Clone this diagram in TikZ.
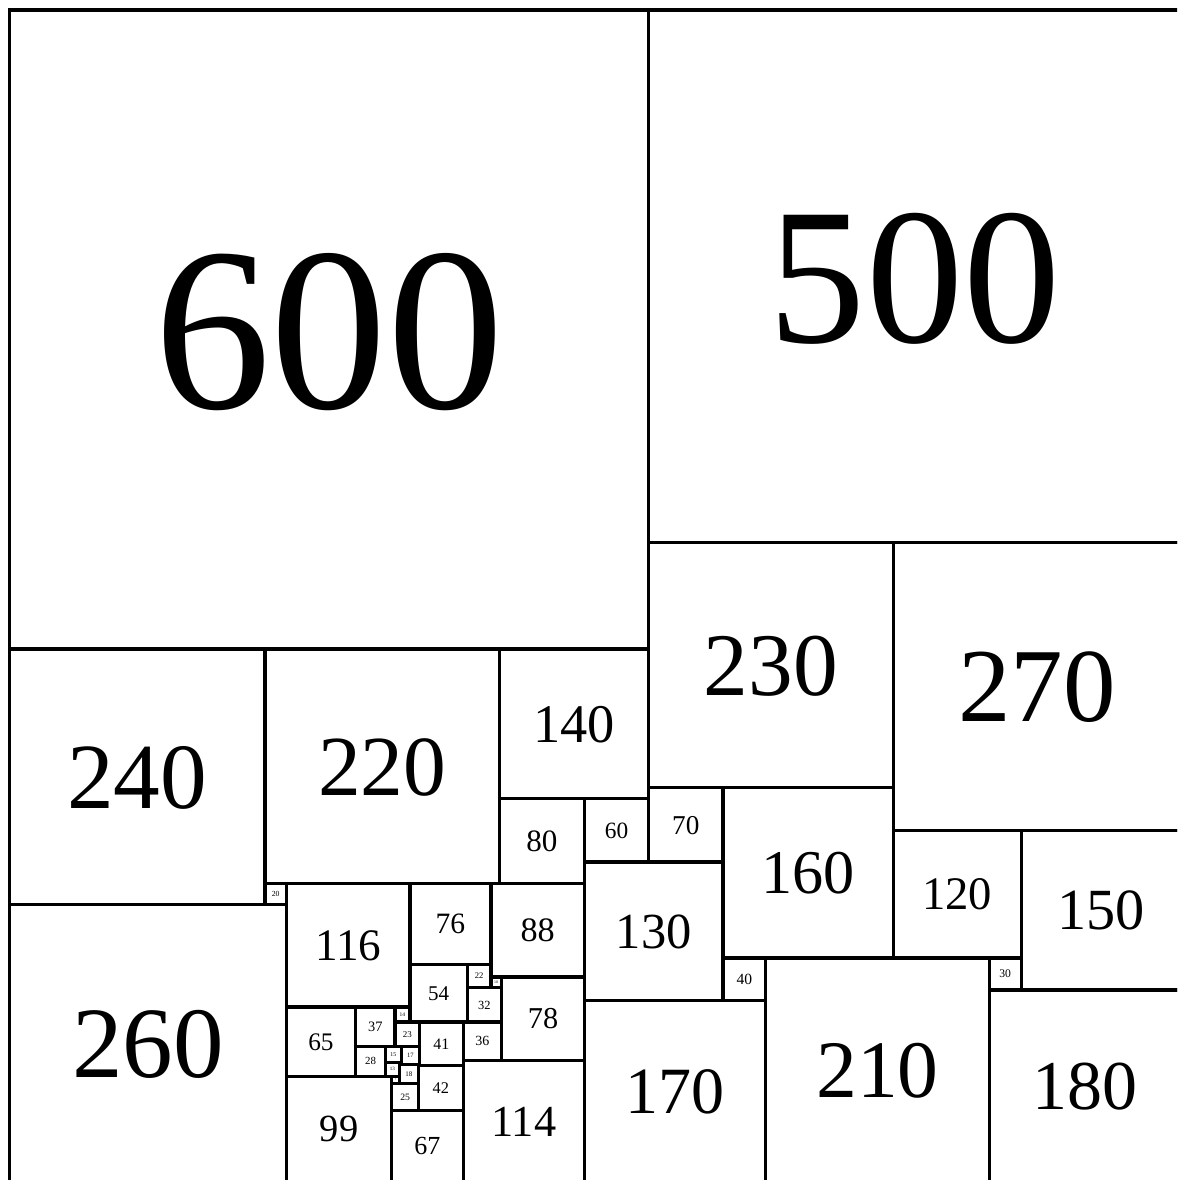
\documentclass[tikz,border=0pt]{standalone}
\usepackage{fontspec}
\setmainfont{Liberation Serif}
\tikzset{
    sqbox/.style={draw=black, line width=3.1pt},
    sqlabel/.style={inner sep=0pt, anchor=center}
}
\begin{document}
\begin{tikzpicture}[x=1pt, y=-1pt]
    \useasboundingbox (-8.9,-9.5) rectangle (1096.3,1098.5);
    \clip (-8.9,-9.5) rectangle (1096.3,1098.5);
    % x / y / side of every square, measured from the top left corner
    \foreach \x/\y/\s in {0/0/600, 600/0/500, 0/600/240, 240/600/220, 460/600/140,
        600/500/230, 830/500/270, 460/740/80, 540/740/60, 600/730/70, 670/730/160,
        830/770/120, 950/770/150, 240/820/20, 0/840/260, 540/800/130, 670/890/40,
        710/890/210, 920/890/30, 920/920/180, 540/930/170, 452/820/88, 260/820/116,
        376/820/76, 462/908/78, 426/986/114, 376/896/54, 430/896/22, 452/908/10,
        430/918/32, 426/950/36, 260/936/65, 260/1001/99, 325/936/37, 362/936/14,
        362/950/23, 385/950/41, 325/973/28, 353/973/15, 368/973/17, 353/988/13,
        366/990/18, 359/1001/7, 359/1008/25, 384/991/42, 359/1033/67} {
        \pgfmathsetmacro{\fs}{0.365*\s}
        \draw[sqbox] (\x,\y) rectangle ++(\s,\s);
        \node[sqlabel] (sq\s) at (\x+\s/2,\y+\s/2+0.004*\s)
            {\fontsize{\fs pt}{\fs pt}\selectfont \s};
    }
\end{tikzpicture}
\end{document}
